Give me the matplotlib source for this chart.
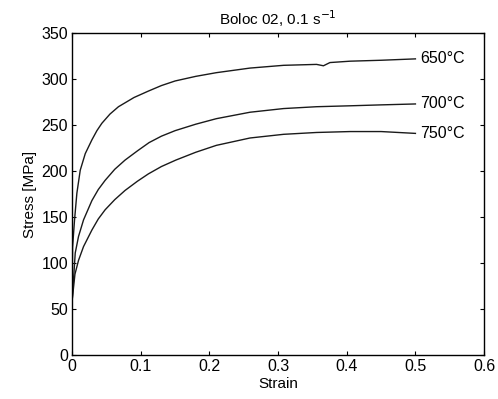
import matplotlib
matplotlib.use('Agg')
import matplotlib.pyplot as plt

plt.rcParams['font.family'] = ['Liberation Sans', 'DejaVu Sans']

# values, one strain list per curve
strain_650 = [0.0, 0.0005, 0.0034, 0.0068, 0.0117, 0.019, 0.0287, 0.036, 0.0432,
              0.055, 0.0674, 0.09, 0.111, 0.13, 0.15, 0.18, 0.21, 0.259, 0.308,
              0.356, 0.366, 0.3755, 0.405, 0.45, 0.5]
stress_650 = [60, 117, 147, 176, 201, 219, 234, 244, 252,
              262, 270, 280, 287, 293, 298, 303, 307, 312, 315,
              316, 314.5, 318, 319.5, 320.5, 322]

strain_700 = [0.0, 0.0044, 0.0092, 0.0165, 0.0287, 0.038, 0.048, 0.062, 0.077,
              0.095, 0.112, 0.13, 0.15, 0.18, 0.21, 0.259, 0.308, 0.356, 0.405,
              0.45, 0.5]
stress_700 = [60, 111, 129, 147, 168, 180, 190, 202, 212,
              222, 231, 238, 244, 251, 257, 264, 268, 270, 271,
              272, 273]

strain_750 = [0.0, 0.004, 0.0092, 0.0165, 0.0287, 0.038, 0.048, 0.062, 0.077,
              0.095, 0.111, 0.13, 0.151, 0.18, 0.21, 0.259, 0.308, 0.356, 0.405,
              0.45, 0.5]
stress_750 = [60, 88, 103, 118, 136, 148, 158, 169, 179,
              189, 197, 205, 212, 220.5, 228, 236, 240, 242, 243,
              243, 241]

labels = ['650°C', '700°C', '750°C']

fig = plt.figure(figsize=(4.98, 3.99), dpi=100)
ax = fig.add_axes([0.145, 0.11, 0.827, 0.807])

curves = [(strain_650, stress_650), (strain_700, stress_700), (strain_750, stress_750)]
for (e, s), lab in zip(curves, labels):
    ax.plot(e, s, color='#1a1a1a', linewidth=1.0)
    ax.text(0.507, s[-1], lab, fontsize=11.5, va='center', ha='left')

ax.set_xlim(0, 0.6)
ax.set_ylim(0, 350)
ax.set_xticks([0, 0.1, 0.2, 0.3, 0.4, 0.5, 0.6])
ax.set_xticklabels(['0', '0.1', '0.2', '0.3', '0.4', '0.5', '0.6'])
ax.set_yticks(range(0, 351, 50))
ax.tick_params(direction='in', top=True, right=True, labelsize=11.5, length=3, pad=3)
ax.set_xlabel('Strain', fontsize=11, labelpad=2)
ax.set_ylabel('Stress [MPa]', fontsize=11, labelpad=3)
ax.set_title('Boloc 02, 0.1 s$^{-1}$', fontsize=11, pad=6)
for sp in ax.spines.values():
    sp.set_linewidth(1.0)

fig.savefig('out.png', dpi=100)
